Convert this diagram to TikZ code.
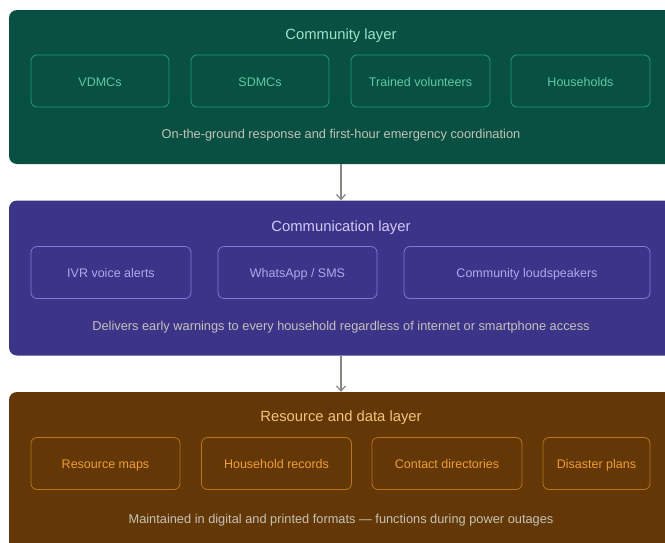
\documentclass[tikz,border=0pt]{standalone}
\usepackage{fontspec}
\setmainfont{Liberation Sans}
\usetikzlibrary{arrows.meta}

\definecolor{greenbg}{HTML}{085041}
\definecolor{greenline}{HTML}{1D9E75}
\definecolor{greentext}{HTML}{5DCAA5}
\definecolor{greentitle}{HTML}{9FE1CB}
\definecolor{purplebg}{HTML}{3C3489}
\definecolor{purpleline}{HTML}{7F77DD}
\definecolor{purpletext}{HTML}{AFA9EC}
\definecolor{purpletitle}{HTML}{CECBF6}
\definecolor{amberbg}{HTML}{633806}
\definecolor{amberline}{HTML}{BA7517}
\definecolor{ambertext}{HTML}{EF9F27}
\definecolor{ambertitle}{HTML}{F5C27A}
\definecolor{notegray}{HTML}{C4C2B8}
\definecolor{arrowgray}{HTML}{888780}

\tikzset{
  panel/.style={rounded corners=8pt, minimum width=664pt, inner sep=0pt},
  item/.style={draw, rounded corners=6pt, line width=0.8pt, minimum height=52pt,
    inner sep=0pt, text height=12pt, text depth=2pt, font=\fontsize{12.5}{15}\selectfont},
  title/.style={text height=14.5pt, text depth=3pt, font=\fontsize{14.8}{17}\selectfont},
  note/.style={text=notegray, text height=12pt, text depth=2pt, font=\fontsize{12.8}{15}\selectfont},
  flow/.style={draw=arrowgray, line width=1.2pt, -{Straight Barb[length=5pt,width=9pt]}}
}

\begin{document}
\begin{tikzpicture}[x=1pt, y=-1pt]
		%%%%% START %%%%%
		\useasboundingbox[fill=white] (0,0) rectangle (665,542);
		
		% community layer
		\node[panel, fill=greenbg, minimum height=154pt] (community) at (341,87) {};
		\node[title, text=greentitle] (communitytitle) at (341,34) {Community layer};
		\node[item, draw=greenline, text=greentext, minimum width=138pt] (vdmc) at (100,81) {VDMCs};
		\node[item, draw=greenline, text=greentext, minimum width=138pt] (sdmc) at (260,81) {SDMCs};
		\node[item, draw=greenline, text=greentext, minimum width=139pt] (volunteers) at (420.5,81) {Trained volunteers};
		\node[item, draw=greenline, text=greentext, minimum width=139pt] (households) at (580.5,81) {Households};
		\node[note] (communitynote) at (341,133) {On-the-ground response and first-hour emergency coordination};
		
		% communication layer
		\node[panel, fill=purplebg, minimum height=155pt] (comm) at (341,278) {};
		\node[title, text=purpletitle] (commtitle) at (341,226) {Communication layer};
		\node[item, draw=purpleline, text=purpletext, minimum width=160pt] (ivr) at (111,272.5) {IVR voice alerts};
		\node[item, draw=purpleline, text=purpletext, minimum width=159pt] (whatsapp) at (297.5,272.5) {WhatsApp / SMS};
		\node[item, draw=purpleline, text=purpletext, minimum width=246pt] (speakers) at (527,272.5) {Community loudspeakers};
		\node[note] (commnote) at (341,325) {Delivers early warnings to every household regardless of internet or smartphone access};
		
		% resource and data layer
		\node[panel, fill=amberbg, minimum height=170pt] (resource) at (341,477) {};
		\node[title, text=ambertitle] (resourcetitle) at (341,416) {Resource and data layer};
		\node[item, draw=amberline, text=ambertext, minimum width=149pt] (maps) at (105.5,463.5) {Resource maps};
		\node[item, draw=amberline, text=ambertext, minimum width=150pt] (records) at (276.5,463.5) {Household records};
		\node[item, draw=amberline, text=ambertext, minimum width=150pt] (contacts) at (447,463.5) {Contact directories};
		\node[item, draw=amberline, text=ambertext, minimum width=107pt] (plans) at (596.5,463.5) {Disaster plans};
		\node[note] (resourcenote) at (341,518) {Maintained in digital and printed formats — functions during power outages};
		
		\draw[flow] (community.south) -- (comm.north);
		\draw[flow] (comm.south) -- (resource.north);
		
		%%%%% END %%%%%
\end{tikzpicture}
\end{document}
